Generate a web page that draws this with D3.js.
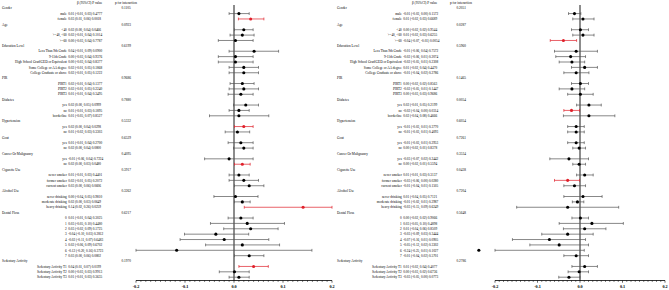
<!DOCTYPE html>
<html><head><meta charset="utf-8">
<script src="https://cdn.jsdelivr.net/npm/d3@7"></script>
<style>body{margin:0;background:#fff}svg{display:block}text{font-family:"Liberation Serif","Times New Roman",serif}</style>
</head><body>
<svg id="c" width="669" height="290"></svg>
<script>
const groups = ["Gender","Age","Education Level","PIR","Diabetes","Hypertension","Gout","Cancer Or Malignancy","Cigarette Use","Alcohol Use","Dental Floss","Sedentary Activity"];
const subgroups = [
  ["male","female"],
  ["<40",">=40, <60",">=60"],
  ["Less Than 9th Grade","9-11th Grade","High School Grad/GED or Equivalent","Some College or AA degree","College Graduate or above"],
  ["PIRT1","PIRT2","PIRT3"],
  ["yes","no","borderline"],
  ["yes","no"],
  ["yes","no"],
  ["yes","no"],
  ["never smoker","former smoker","current smoker"],
  ["never drinking","moderate drinking","heavy drinking"],
  ["0","1","2","3","4","5","6","7"],
  ["Sedentary Activity T1","Sedentary Activity T2","Sedentary Activity T3"]
];
const pInterLeft  = ["0.1105","0.0923","0.6199","0.9686","0.7880","0.5332","0.6529","0.4095","0.3917","0.3262","0.6217","0.1970"];
const pInterRight = ["0.2051","0.0287","0.5960","0.1465","0.0054","0.6054","0.7261","0.3534","0.0438","0.7204","0.5648","0.2786"];

const betaLeft = [0.010,0.034, 0.020,0.017,0.003, 0.041,0.003,0.003,0.020,0.020, 0.017,0.020,0.014, 0.024,0.010,0.010, 0.020,0.007, 0.014,0.020, -0.010,0.017, 0.010,0.020,0.031, 0.003,0.017,0.141, 0.014,0.027,0.034,-0.037,-0.020,0.017,-0.117,0.031, 0.040,0.001,0.010];
const loLeft   = [-0.010,0.009, 0.001,-0.008,-0.032, -0.010,-0.032,-0.032,-0.010,-0.010, -0.008,-0.010,-0.012, -0.001,-0.010,-0.050, 0.001,-0.018, -0.012,-0.001, -0.060,0.001, -0.010,-0.010,0.001, -0.041,0.001,0.021, -0.012,-0.048,-0.021,-0.101,-0.110,-0.058,-0.202,0.001, 0.010,-0.030,-0.010];
const hiLeft   = [0.031,0.061, 0.039,0.041,0.039, 0.091,0.039,0.039,0.050,0.050, 0.041,0.050,0.039, 0.050,0.031,0.071, 0.039,0.032, 0.039,0.039, 0.039,0.033, 0.031,0.050,0.061, 0.049,0.033,0.260, 0.039,0.103,0.090,0.030,0.071,0.093,0.159,0.061, 0.070,0.031,0.031];
const pLeft    = ["0.4777","0.0018","0.0466","0.1014","0.7787","0.0900","0.9376","0.8377","0.1868","0.1222","0.1377","0.2240","0.3495","0.0999","0.1895","0.8527","0.0298","0.3303","0.2700","0.0800","0.7224","0.0480","0.4401","0.2072","0.0606","0.9810","0.0649","0.0259","0.3025","0.4480","0.1725","0.2812","0.6483","0.6702","0.3723","0.0802","0.0199","0.9913","0.3635"];
const sigLeft  = [0,1, 0,0,0, 0,0,0,0,0, 0,0,0, 0,0,0, 1,0, 0,0, 0,1, 0,0,0, 0,0,1, 0,0,0,0,0,0,0,0, 1,0,0];

const betaRight = [-0.013,0.007, 0.001,0.007,-0.039, -0.009,-0.022,-0.019,0.011,-0.009, 0.001,-0.019,0.001, 0.021,-0.020,0.021, -0.009,-0.009, -0.009,-0.002, -0.026,-0.002, 0.011,-0.029,-0.013, 0.007,-0.006,-0.029, 0.001,0.028,0.011,-0.029,-0.072,-0.049,-0.238,-0.009, 0.011,-0.002,-0.026];
const loRight   = [-0.027,-0.017, -0.020,-0.017,-0.070, -0.060,-0.057,-0.049,-0.020,-0.038, -0.020,-0.049,-0.029, -0.008,-0.038,-0.039, -0.029,-0.029, -0.029,-0.017, -0.071,-0.017, -0.008,-0.060,-0.038, -0.038,-0.018,-0.149, -0.019,-0.049,-0.039,-0.090,-0.159,-0.118,-0.249,-0.038, -0.019,-0.028,-0.050];
const hiRight   = [0.002,0.033, 0.020,0.033,-0.008, 0.041,0.013,0.011,0.041,0.021, 0.020,0.011,0.031, 0.050,-0.001,0.082, 0.010,0.010, 0.010,0.013, 0.020,0.013, 0.031,-0.001,0.013, 0.052,0.009,0.091, 0.020,0.102,0.061,0.031,0.013,0.020,0.010,0.020, 0.041,0.020,0.000];
const pRight    = ["0.1572","0.6689","0.9544","0.6255","0.0054","0.7572","0.2074","0.2308","0.4470","0.2786","0.8563","0.1447","0.9686","0.2199","0.0314","0.4666","0.3770","0.4093","0.2953","0.8378","0.2442","0.5594","0.3137","0.0280","0.1505","0.7121","0.2987","0.6249","0.9066","0.4898","0.8509","0.3444","0.0905","0.3302","0.1027","0.5701","0.4077","0.6736","0.0773"];
const sigRight  = [0,0, 0,0,1, 0,0,0,0,0, 0,0,0, 0,1,0, 0,0, 0,0, 0,0, 0,1,0, 0,0,0, 0,0,0,0,0,0,0,0, 0,0,0];

const xTicks = [-0.2,-0.1,0.0,0.1,0.2];

// build rows
const rows = [];
let k = 0;
groups.forEach((g,gi)=>{
  rows.push({type:"h", label:g, gi});
  subgroups[gi].forEach(s=>{ rows.push({type:"s", label:s, k}); k++; });
});

const svg = d3.select("#c");
const y = d3.scaleLinear().domain([0, rows.length-1]).range([8.2, 277.2]);
const fmt = v => d3.format(".2f")(v).replace("−","-");
const RED = "#e0202a";

function panel(off, xRange, beta, lo, hi, pv, sig, pInter) {
  const x = d3.scaleLinear().domain([-0.2,0.2]).range(xRange);
  const g = svg.append("g");
  const fs = 3.4;
  // headers
  g.append("text").attr("x", off+77).attr("y", 4.4).attr("font-size", fs).text("β (95%CI) P value");
  g.append("text").attr("x", off+115).attr("y", 4.4).attr("font-size", fs).text("p for interaction");
  rows.forEach((r,i)=>{
    const yy = y(i) + 1.2;
    if (r.type==="h") {
      g.append("text").attr("x", off+2).attr("y", yy).attr("font-size", fs).text(r.label);
      g.append("text").attr("x", off+121.5).attr("y", yy).attr("font-size", fs).text(pInter[r.gi]);
    } else {
      g.append("text").attr("x", off+66.8).attr("y", yy).attr("text-anchor","end").attr("font-size", fs).text(r.label);
      g.append("text").attr("x", off+68.2).attr("y", yy).attr("font-size", fs)
        .text(`${fmt(beta[r.k])} (${fmt(lo[r.k])}, ${fmt(hi[r.k])}) ${pv[r.k]}`);
    }
  });
  // zero line
  g.append("line").attr("x1", x(0)).attr("x2", x(0)).attr("y1", 5).attr("y2", 280.5)
    .attr("stroke","#000").attr("stroke-width",0.9);
  // axis
  const ax = g.append("g").attr("transform","translate(0,280.5)");
  ax.append("line").attr("x1", x(-0.2)).attr("x2", x(0.2)).attr("stroke","#000").attr("stroke-width",0.8);
  const minor = d3.range(-20,21).map(v=>v/100);
  ax.selectAll("line.m").data(minor).enter().append("line")
    .attr("x1", d=>x(d)).attr("x2", d=>x(d)).attr("y1",0)
    .attr("y2", d=> Math.abs(Math.round(d*100))%10===0 ? 2.2 : 1.3)
    .attr("stroke","#000").attr("stroke-width",0.6);
  ax.selectAll("text").data(xTicks).enter().append("text")
    .attr("x", d=>x(d)).attr("y", 7.3).attr("text-anchor","middle")
    .attr("font-size", 4.2).attr("font-weight","bold")
    .attr("font-family","Liberation Sans, Arial, sans-serif")
    .text(d=> d3.format(".1f")(d).replace("−","-"));
  // error bars
  const sub = rows.filter(r=>r.type==="s");
  const idx = rows.map((r,i)=>i).filter(i=>rows[i].type==="s");
  sub.forEach((r,j)=>{
    const i = idx[j];
    const yy = y(i);
    const col = sig[r.k] ? RED : "#555";
    const l = x(Math.max(-0.2, lo[r.k]));
    const h = x(Math.min(0.2, hi[r.k]));
    g.append("line").attr("x1", l).attr("x2", h).attr("y1", yy).attr("y2", yy).attr("stroke", col).attr("stroke-width",0.7);
    [l,h].forEach(cx=> g.append("line").attr("x1",cx).attr("x2",cx).attr("y1",yy-1.4).attr("y2",yy+1.4).attr("stroke",col).attr("stroke-width",0.7));
    g.append("circle").attr("cx", x(beta[r.k])).attr("cy", yy).attr("r",1.55).attr("fill", sig[r.k] ? RED : "#000");
  });
}

panel(0, [136, 332], betaLeft, loLeft, hiLeft, pLeft, sigLeft, pInterLeft);
panel(335, [495, 665], betaRight, loRight, hiRight, pRight, sigRight, pInterRight);
</script>
</body></html>
